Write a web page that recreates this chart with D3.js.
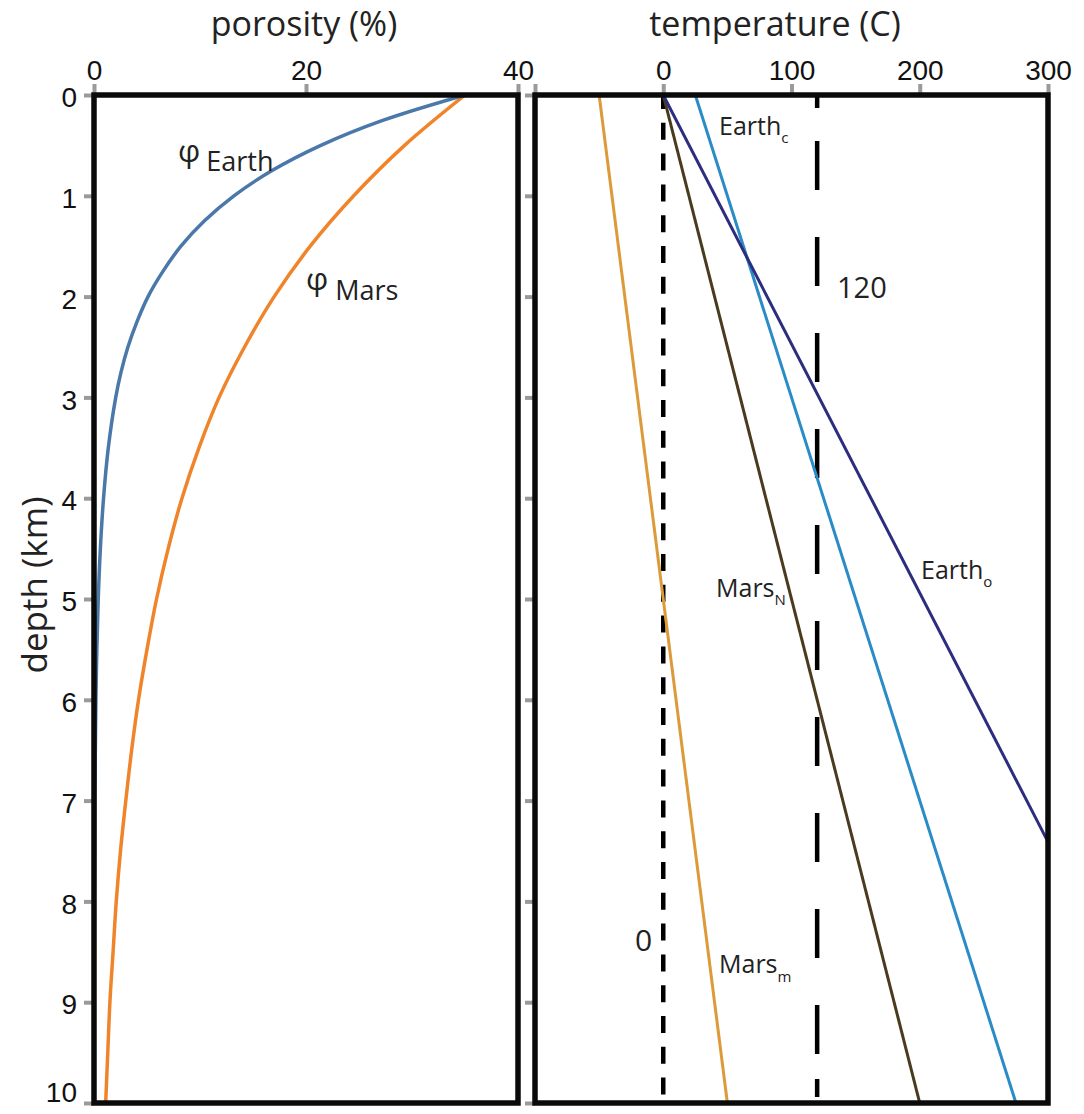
<!DOCTYPE html>
<html>
<head>
<meta charset="utf-8">
<script src="https://cdn.jsdelivr.net/npm/d3@7"></script>
<style>
  html, body { margin: 0; padding: 0; background: #fff; }
  svg { display: block; }
  .tick text { font-family: "Liberation Sans", Arial, sans-serif; font-size: 28px; fill: #111; }
  .lbl { font-family: "Open Sans", "Noto Sans", sans-serif; fill: #222; }
</style>
</head>
<body>
<svg id="chart" width="1084" height="1114"></svg>
<script>
// Depth axis and porosity / temperature ticks
const depthTicks = [0, 1, 2, 3, 4, 5, 6, 7, 8, 9, 10];
const porosityTicks = [0, 20, 40];
const temperatureTicks = [-100, 0, 100, 200, 300];
const temperatureTickLabels = ["", "0", "100", "200", "300"];

// Porosity-depth profiles (depth km, porosity %)
const earthDepth = [0, 0.25, 0.5, 0.75, 1, 1.25, 1.5, 1.75, 2, 2.25, 2.5, 2.75, 3, 3.5, 4, 4.5, 5, 5.5, 6, 7, 8, 9, 10];
const phiEarth   = [35, 27.3, 21.4, 16.8, 13.2, 10.4, 8.2, 6.5, 5.1, 4.05, 3.2, 2.55, 2.05, 1.35, 0.9, 0.6, 0.4, 0.27, 0.18, 0.08, 0.04, 0.02, 0.01];
const marsDepth  = [0, 0.5, 1, 1.5, 2, 2.5, 3, 3.5, 4, 4.5, 5, 5.5, 6, 6.5, 7, 7.5, 8, 8.5, 9, 9.5, 10];
const phiMars    = [35, 29.3, 24.5, 20.4, 17.0, 14.2, 11.8, 9.9, 8.3, 7.0, 5.9, 5.0, 4.2, 3.55, 3.0, 2.5, 2.1, 1.8, 1.5, 1.3, 1.1];

// Geotherms: [depth km, temperature C] end points
const marsM  = [[0, -50], [10, 50]];
const marsN  = [[0, 0], [10, 200]];
const earthC = [[0, 25], [10, 275]];
const earthO = [[0, 0], [7.41, 300]];

// Reference isotherms
const isotherms = [0, 120];

const svg = d3.select("#chart");

const y = d3.scaleLinear().domain([0, 10]).range([95, 1103]);
const xPor = d3.scaleLinear().domain([0, 40]).range([94, 518]);
const xTemp = d3.scaleLinear().domain([-100, 300]).range([535, 1048]);

function styleAxis(g) {
  g.select(".domain").remove();
  g.selectAll(".tick line").attr("stroke", "#9a9a9a").attr("stroke-width", 4);
}

// ---------- porosity panel ----------
svg.append("clipPath").attr("id", "clipL")
  .append("rect").attr("x", 94).attr("y", 95).attr("width", 424).attr("height", 1008);

svg.append("g").attr("transform", "translate(0,95)")
  .call(d3.axisTop(xPor).tickValues(porosityTicks).tickSize(11).tickPadding(4).tickFormat(d3.format("d")))
  .call(styleAxis);

const depthAxis = svg.append("g").attr("transform", "translate(94,0)")
  .call(d3.axisLeft(y).tickValues(depthTicks).tickSize(10).tickPadding(7).tickFormat(d3.format("d")))
  .call(styleAxis);
depthAxis.selectAll(".tick text").attr("dy", d => d === 10 ? "-0.05em" : "0.42em");

const porLine = (depths, vals) => d3.line()
  .x((d, i) => xPor(vals[i]))
  .y(d => y(d))
  .curve(d3.curveCatmullRom.alpha(0.5))(depths);

const gL = svg.append("g").attr("clip-path", "url(#clipL)");
gL.append("path").attr("d", porLine(marsDepth, phiMars))
  .attr("fill", "none").attr("stroke", "#f0842b").attr("stroke-width", 3.5);
gL.append("path").attr("d", porLine(earthDepth, phiEarth))
  .attr("fill", "none").attr("stroke", "#4a78a9").attr("stroke-width", 3.5);

svg.append("rect").attr("x", 94).attr("y", 95).attr("width", 424).attr("height", 1008)
  .attr("fill", "none").attr("stroke", "#0a0a0a").attr("stroke-width", 5.5);

// curve labels
const tE = svg.append("text").attr("class", "lbl").attr("x", 178).attr("y", 162);
tE.append("tspan").attr("font-size", 31).text("φ");
tE.append("tspan").attr("font-size", 27).attr("dx", 6).attr("dy", 9).text("Earth");

const tM = svg.append("text").attr("class", "lbl").attr("x", 306).attr("y", 290);
tM.append("tspan").attr("font-size", 31).text("φ");
tM.append("tspan").attr("font-size", 27).attr("dx", 7).attr("dy", 10).text("Mars");

// ---------- temperature panel ----------
svg.append("clipPath").attr("id", "clipR")
  .append("rect").attr("x", 535).attr("y", 95).attr("width", 513).attr("height", 1008);

svg.append("g").attr("transform", "translate(0,95)")
  .call(d3.axisTop(xTemp).tickValues(temperatureTicks).tickSize(11).tickPadding(4)
    .tickFormat((d, i) => temperatureTickLabels[i]))
  .call(styleAxis);

svg.append("g").attr("transform", "translate(535,0)")
  .call(d3.axisLeft(y).tickValues(depthTicks).tickSize(10).tickFormat(""))
  .call(styleAxis);

const gR = svg.append("g").attr("clip-path", "url(#clipR)");

// isotherm guides
gR.append("line")
  .attr("x1", xTemp(isotherms[0])).attr("x2", xTemp(isotherms[0]))
  .attr("y1", y(0)).attr("y2", y(10))
  .attr("stroke", "#000").attr("stroke-width", 4.5)
  .attr("stroke-dasharray", "17,13.8").attr("stroke-dashoffset", 3);
gR.append("line")
  .attr("x1", xTemp(isotherms[1])).attr("x2", xTemp(isotherms[1]))
  .attr("y1", y(0)).attr("y2", y(10))
  .attr("stroke", "#000").attr("stroke-width", 4.5)
  .attr("stroke-dasharray", "13,33,49,47,49,47,49,47,49,47,49,47,49,47,49,47,49,47,49,47,49,25,18,40");

const geo = d3.line().x(d => xTemp(d[1])).y(d => y(d[0]));
const geotherms = [
  { data: marsM, color: "#dc9a3a", w: 3 },
  { data: marsN, color: "#4b3b1e", w: 3 },
  { data: earthC, color: "#2b8bc6", w: 3 },
  { data: earthO, color: "#2c2d7e", w: 3 }
];
gR.selectAll("path.geo").data(geotherms).join("path")
  .attr("class", "geo")
  .attr("d", d => geo(d.data))
  .attr("fill", "none").attr("stroke", d => d.color).attr("stroke-width", d => d.w);

svg.append("rect").attr("x", 535).attr("y", 95).attr("width", 513).attr("height", 1008)
  .attr("fill", "none").attr("stroke", "#0a0a0a").attr("stroke-width", 5.5);

// geotherm labels
function subLabel(x, yy, main, sub, subDy) {
  const t = svg.append("text").attr("class", "lbl").attr("x", x).attr("y", yy);
  t.append("tspan").attr("font-size", 25).text(main);
  t.append("tspan").attr("font-size", 15).attr("dx", 0).attr("dy", subDy).text(sub);
}
subLabel(719, 135, "Earth", "c", 8);
subLabel(921, 579, "Earth", "o", 8);
subLabel(716, 597, "Mars", "N", 8);
subLabel(719, 973, "Mars", "m", 9);

svg.append("text").attr("class", "lbl").attr("x", 837).attr("y", 298)
  .attr("font-size", 29).text(isotherms[1]);
svg.append("text").attr("class", "lbl").attr("x", 635).attr("y", 951)
  .attr("font-size", 30).text(isotherms[0]);

// ---------- axis titles ----------
svg.append("text").attr("class", "lbl").attr("x", 304).attr("y", 36)
  .attr("text-anchor", "middle").attr("font-size", 34).text("porosity (%)");
svg.append("text").attr("class", "lbl").attr("x", 775).attr("y", 36)
  .attr("text-anchor", "middle").attr("font-size", 34).text("temperature (C)");
svg.append("text").attr("class", "lbl")
  .attr("transform", "translate(47,585) rotate(-90)")
  .attr("text-anchor", "middle").attr("font-size", 35).text("depth (km)");
</script>
</body>
</html>
